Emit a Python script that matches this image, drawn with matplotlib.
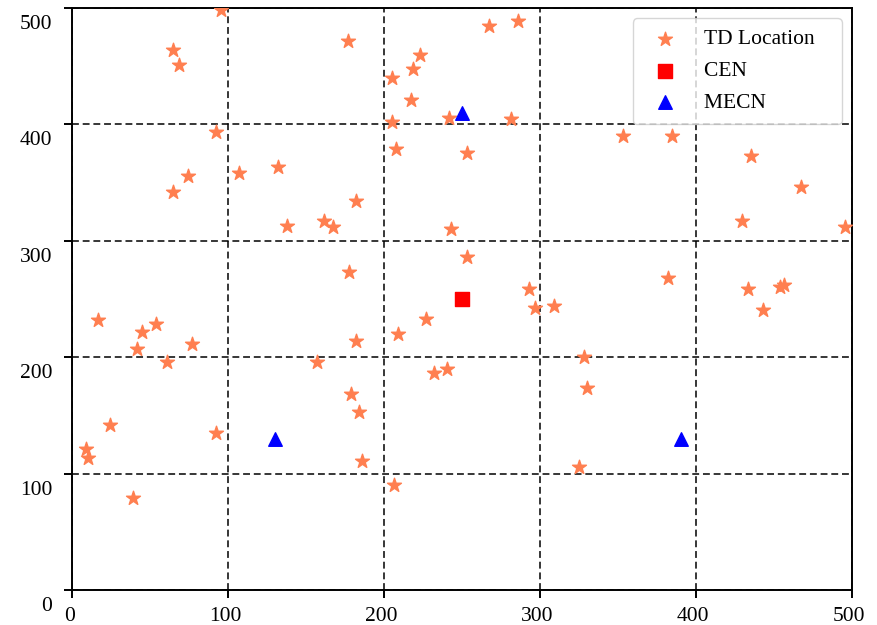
import matplotlib
matplotlib.use("Agg")
import matplotlib.pyplot as plt
import matplotlib.transforms as mtransforms

plt.rcParams['font.family'] = ['Liberation Serif', 'DejaVu Serif']

# TD locations (x, y)
td_x = [95.5, 176.5, 64.7, 68.2, 205.1, 222.7, 218.6, 216.9, 204.9, 207.7,
        92.1, 74.0, 64.7, 106.9, 131.9, 137.8, 161.3, 166.9, 182.1, 177.6,
        267.1, 285.9, 241.7, 281.0, 253.0, 353.2, 384.2, 435.1, 467.1, 429.1,
        495.1, 243.0, 253.0, 293.0, 296.8, 308.8, 382.0, 432.9, 453.6, 456.2,
        442.9, 16.7, 44.9, 53.7, 41.7, 76.7, 60.9, 156.9, 182.0, 209.0,
        226.7, 231.7, 240.0, 178.8, 184.0, 185.9, 206.0, 91.9, 24.0, 8.8,
        9.9, 38.9, 327.8, 329.9, 325.0]
td_y = [498.0, 471.5, 463.5, 450.7, 439.8, 459.0, 447.2, 420.6, 401.5, 378.6,
        393.5, 355.4, 341.5, 357.8, 362.9, 312.5, 317.1, 311.4, 334.0, 272.8,
        484.4, 488.4, 405.0, 404.4, 375.4, 390.0, 390.0, 372.9, 345.7, 316.8,
        311.4, 310.0, 286.0, 258.2, 241.9, 243.9, 268.0, 258.8, 260.5, 262.0,
        240.5, 231.9, 221.3, 228.2, 207.0, 211.0, 195.9, 195.9, 213.9, 219.9,
        233.0, 186.2, 189.9, 168.1, 152.7, 110.9, 90.0, 135.2, 141.6, 121.2,
        113.2, 78.9, 199.9, 173.8, 106.0]

cen_x = [250]
cen_y = [250]

mecn_x = [250, 130, 390]
mecn_y = [410, 130, 130]

ticks = [0, 100, 200, 300, 400, 500]
labels = ["TD Location", "CEN", "MECN"]

fig = plt.figure(figsize=(8.77, 6.25), dpi=100)
ax = fig.add_axes([0.0824, 0.0555, 0.8894, 0.9322])

ax.scatter(td_x, td_y, marker='*', s=110, color='#FF7F50', linewidths=1.0,
           label=labels[0], zorder=3)
ax.scatter(cen_x, cen_y, marker='s', s=100, color='red', linewidths=1.0,
           label=labels[1], zorder=3)
ax.scatter(mecn_x, mecn_y, marker='^', s=95, color='blue', linewidths=1.0,
           label=labels[2], zorder=3)

ax.set_xlim(0, 500)
ax.set_ylim(0, 500)
ax.set_xticks(ticks)
ax.set_yticks(ticks)
ax.set_xticklabels([str(t) for t in ticks])
ax.set_yticklabels([str(t) for t in ticks])

ax.grid(True, color='black', linestyle=(0, (4.5, 2.5)), linewidth=1.1, zorder=1)
ax.set_axisbelow(True)

for sp in ax.spines.values():
    sp.set_linewidth(1.4)
    sp.set_color('black')

ax.tick_params(axis='both', direction='out', length=5.8, width=1.4,
               labelsize=15.5, colors='black')
ax.tick_params(axis='x', pad=6.5)
ax.tick_params(axis='y', pad=8.5)

# Shift tick labels like in the reference
yoff = mtransforms.ScaledTranslation(0, -14 / 100, fig.dpi_scale_trans)
for lbl in ax.get_yticklabels():
    lbl.set_transform(lbl.get_transform() + yoff)
xoff = mtransforms.ScaledTranslation(-3 / 100, 0, fig.dpi_scale_trans)
for lbl in ax.get_xticklabels():
    lbl.set_transform(lbl.get_transform() + xoff)

leg = ax.legend(loc='upper right', fontsize=15.5, labelspacing=0.55,
                scatterpoints=1, borderpad=0.5)
# widen the legend box on the right as in the reference
for t in leg.get_texts():
    t.set_text(t.get_text() + "   ")

fig.savefig("out.png", dpi=100)
